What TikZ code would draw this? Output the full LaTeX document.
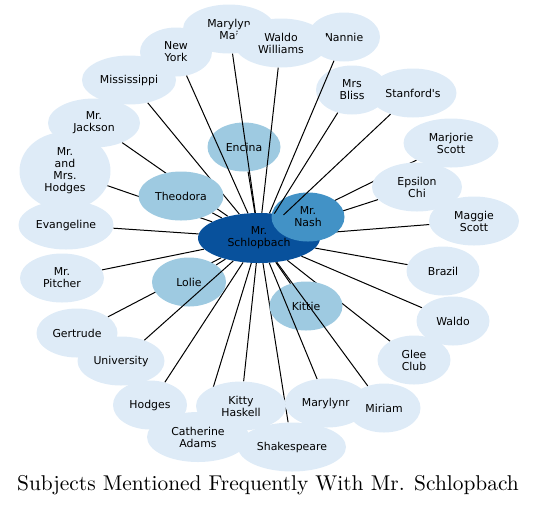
\documentclass[tikz,border=0pt]{standalone}
\usepackage{graphicx}
\usepackage{fontspec}
\newfontfamily\subjfont{DejaVu Sans}
\usetikzlibrary{shapes.geometric}
\pgfdeclarelayer{edges}
\pgfsetlayers{edges,main}
\definecolor{bluesA}{HTML}{DEEBF7}
\definecolor{bluesB}{HTML}{9ECAE1}
\definecolor{bluesC}{HTML}{4292C6}
\definecolor{bluesD}{HTML}{08519C}

\begin{document}
\begin{tikzpicture}[x=1pt, y=-1pt,
    subj/.style={ellipse, fill=bluesA, draw=none, inner sep=0pt, align=center,
      minimum width=73pt, minimum height=49pt,
      font=\subjfont\fontsize{10.9}{12}\selectfont},
    near/.style={subj, fill=bluesB},
    link/.style={black, line width=1pt}]
  % Co-mention network
  \useasboundingbox (0,0) rectangle (537,507);

  % Outer ring
  \node[subj, minimum width=92pt] (marylynmai) at (229,29) {Marylyn\\Mai};
  \node[subj, minimum width=72pt] (nannie) at (344,37) {Nannie};
  \node[subj, minimum width=94pt] (waldowilliams) at (281,43) {Waldo\\Williams};
  \node[subj, minimum width=72pt] (newyork) at (176,52) {New\\York};
  \node[subj, minimum width=94pt] (mississippi) at (129,80) {Mississippi};
  \node[subj, minimum width=91pt, minimum height=78pt] (mrmrshodges) at (65,171) {Mr.\\and\\Mrs.\\Hodges};
  \node[subj, minimum width=92pt] (jackson) at (94,123) {Mr.\\Jackson};
  \node[subj, minimum width=95pt] (evangeline) at (66,225) {Evangeline};
  \node[subj, minimum width=84pt] (pitcher) at (62,278) {Mr.\\Pitcher};
  \node[subj, minimum width=81pt] (gertrude) at (77,333) {Gertrude};
  \node[subj, minimum width=87pt] (university) at (121,361) {University};
  \node[subj, minimum width=74pt] (hodges) at (150,405) {Hodges};
  \node[subj, minimum width=102pt, minimum height=50pt] (catherine) at (198,437) {Catherine\\Adams};
  \node[subj, minimum width=90pt] (kitty) at (241,406) {Kitty\\Haskell};
  \node[subj, minimum width=108pt] (shakespeare) at (292,447) {Shakespeare};
  \node[subj, minimum width=84pt] (marylynn) at (327,403) {Marylynn};
  \node[subj] (miriam) at (384,408) {Miriam};
  \node[subj] (glee) at (414,360) {Glee\\Club};
  \node[subj] (waldo) at (453,321) {Waldo};
  \node[subj] (brazil) at (443,271) {Brazil};
  \node[subj, minimum width=90pt] (maggie) at (474,221) {Maggie\\Scott};
  \node[subj, minimum width=90pt] (epsilon) at (417,187) {Epsilon\\Chi};
  \node[subj, minimum width=95pt] (marjorie) at (451,143) {Marjorie\\Scott};
  \node[subj, minimum width=72pt] (bliss) at (352,90) {Mrs\\Bliss};
  \node[subj, minimum width=87pt] (stanfords) at (413,93) {Stanford's};

  % Centre and close subjects
  \node[subj, fill=bluesD, minimum width=122pt, minimum height=50pt] (schlopbach) at (259,238) {Mr.\\Schlopbach};
  \node[near] (encina) at (244,147) {Encina};
  \node[near, minimum width=85pt] (theodora) at (181,196) {Theodora};
  \node[near, minimum width=74pt] (lolie) at (189,282) {Lolie};
  \node[near] (kittie) at (306,306) {Kittie};
  \node[subj, fill=bluesC] (nash) at (308,217) {Mr.\\Nash};

  % Links behind the nodes
  \begin{pgfonlayer}{edges}
    \foreach \other in {encina, theodora, lolie, kittie, nash, mississippi,
        jackson, mrmrshodges, evangeline, pitcher, gertrude, hodges, catherine,
        kitty, shakespeare, glee, waldo, brazil, maggie, epsilon, marjorie}
      \draw[link] (schlopbach) -- (\other);
  \end{pgfonlayer}

  % Links over the close subjects
  \foreach \other in {marylynmai, newyork, waldowilliams, nannie, bliss,
      stanfords, university, marylynn, miriam}
    \draw[link] (schlopbach) -- (\other);

  % Caption
  \node (caption) at (268,485) {\scalebox{2.14}{Subjects Mentioned Frequently With Mr. Schlopbach}};
\end{tikzpicture}
\end{document}
